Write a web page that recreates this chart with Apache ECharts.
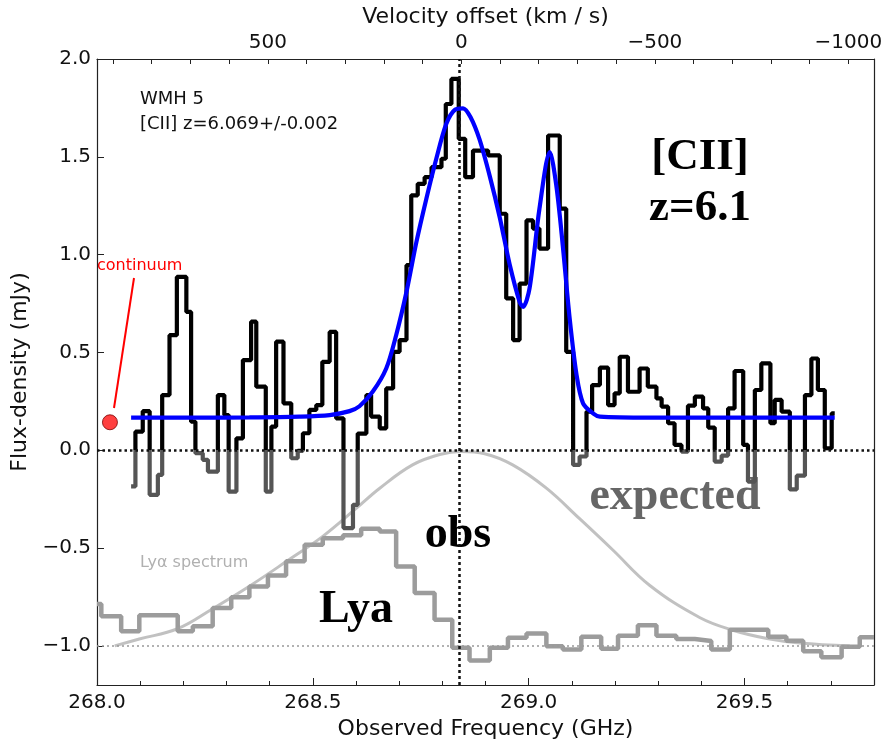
<!DOCTYPE html>
<html>
<head>
<meta charset="utf-8">
<script src="https://cdn.jsdelivr.net/npm/echarts@6/dist/echarts.min.js"></script>
<style>
html,body{margin:0;padding:0;background:#fff;}
#chart{width:888px;height:745px;}
</style>
</head>
<body>
<div id="chart"></div>
<script>
// ---- constants ----
const REST_FREQ = 268.844;     // GHz, velocity zero ([CII] at z=6.069)
const C_KMS = 299792.458;
const FREQ_MIN = 268.0, FREQ_MAX = 269.8;
const FLUX_MIN = -1.2, FLUX_MAX = 2.0;

// ---- tick labels ----
const freqTicks = [268.0, 268.5, 269.0, 269.5];
const fluxTicks = [-1.0, -0.5, 0.0, 0.5, 1.0, 1.5, 2.0];
const velLabels = [500, 0, -500, -1000];
const velTicks = [900, 800, 700, 600, 500, 400, 300, 200, 100, 0, -100, -200, -300, -400, -500, -600, -700, -800, -900, -1000];

// ---- [CII] spectrum (histogram: left channel edge, flux) ----
const ciiFreq = [268.079,268.089,268.106,268.122,268.141,268.151,268.168,268.185,268.207,268.218,
  268.228,268.245,268.257,268.280,268.295,268.305,268.323,268.338,268.357,268.369,
  268.391,268.404,268.415,268.432,268.450,268.465,268.477,268.492,268.508,268.522,
  268.539,268.554,268.571,268.593,268.604,268.624,268.635,268.655,268.670,268.686,
  268.701,268.717,268.728,268.743,268.759,268.775,268.798,268.808,268.821,268.838,
  268.853,268.871,268.906,268.933,268.948,268.964,268.979,268.995,269.010,269.025,
  269.045,269.072,269.087,269.103,269.118,269.134,269.147,269.165,269.184,269.199,
  269.211,269.230,269.257,269.276,269.296,269.308,269.323,269.338,269.354,269.369,
  269.385,269.404,269.416,269.431,269.447,269.462,269.477,269.497,269.508,269.524,
  269.539,269.560,269.570,269.586,269.605,269.621,269.640,269.655,269.670,269.686,
  269.702,269.709];
const ciiFlux = [-0.185,0.095,0.20,-0.228,-0.126,0.282,0.588,0.886,0.707,0.146,
  -0.015,-0.049,-0.109,0.282,0.18,-0.211,0.061,0.461,0.657,0.325,
  -0.211,0.121,0.555,0.24,-0.041,-0.003,0.087,0.206,0.231,0.452,
  0.605,0.163,-0.398,-0.279,0.085,0.282,0.172,0.112,0.316,0.503,
  0.563,0.946,1.303,1.362,1.396,1.447,1.49,1.77,1.898,1.592,
  1.396,1.532,1.507,1.209,0.776,0.563,0.852,1.175,1.133,1.031,
  1.609,1.235,0.503,-0.075,-0.032,0.197,0.333,0.422,0.231,0.291,
  0.478,0.299,0.418,0.325,0.265,0.223,0.138,0.027,-0.007,0.228,
  0.274,0.214,0.116,-0.058,-0.027,0.214,0.405,0.027,-0.16,0.308,
  0.444,0.138,0.257,0.197,-0.2,-0.13,0.282,0.469,0.308,0.01,
  0.189,0.189];

// ---- two-component fit (blue) ----
const fitFreq = [268.079,268.238,268.353,268.469,268.539,268.585,268.608,268.639,268.670,268.693,
  268.717,268.740,268.763,268.786,268.809,268.830,268.848,268.866,268.886,268.910,
  268.933,268.956,268.979,268.987,269.002,269.025,269.049,269.064,269.079,269.095,
  269.111,269.126,269.149,269.165,269.280,269.709];
const fitFlux = [0.167,0.167,0.168,0.172,0.18,0.2,0.225,0.3,0.418,0.588,
  0.81,1.065,1.286,1.49,1.668,1.742,1.748,1.70,1.59,1.40,
  1.19,0.95,0.759,0.733,0.827,1.235,1.524,1.354,1.047,0.673,
  0.384,0.24,0.189,0.172,0.167,0.167];

// ---- Lya spectrum (histogram, shifted) ----
const lyaFreq = [268.0,268.010,268.056,268.098,268.187,268.222,268.268,268.311,268.353,268.396,
  268.438,268.481,268.523,268.570,268.612,268.655,268.693,268.736,268.782,268.823,
  268.863,268.910,268.952,268.995,269.041,269.079,269.122,269.168,269.207,269.253,
  269.296,269.342,269.385,269.423,269.466,269.555,269.597,269.636,269.678,269.725,
  269.767,269.8];
const lyaFlux = [-0.786,-0.849,-0.925,-0.844,-0.925,-0.9,-0.806,-0.752,-0.696,-0.64,
  -0.568,-0.483,-0.45,-0.435,-0.401,-0.415,-0.594,-0.73,-0.866,-1.01,
  -1.075,-1.01,-0.959,-0.937,-1.002,-1.019,-0.953,-1.015,-0.948,-0.895,
  -0.948,-0.965,-0.975,-1.019,-0.917,-0.953,-0.974,-1.027,-1.058,-1.005,
  -0.956,-0.956];

// ---- expected Lya profile (light grey curve) ----
const expFreq = [268.041,268.098,268.187,268.268,268.353,268.439,268.523,268.601,268.655,268.731,
  268.794,268.844,268.898,268.963,269.041,269.118,269.195,269.280,269.396,269.473,
  269.552,269.628,269.744];
const expFlux = [-1.0,-0.965,-0.912,-0.81,-0.695,-0.568,-0.44,-0.296,-0.194,-0.075,
  -0.022,-0.007,-0.018,-0.075,-0.194,-0.35,-0.51,-0.69,-0.855,-0.92,
  -0.962,-0.985,-1.0];

// ---- continuum point ----
const contFreq = [268.03];
const contFlux = [0.143];

const zip = (a, b) => a.map((v, i) => [v, b[i]]);
const minus = s => String(s).replace('-', '\u2212');
const FONT = 'DejaVu Sans';

const velLeft = C_KMS * (REST_FREQ - FREQ_MIN) / REST_FREQ;
const velRight = C_KMS * (REST_FREQ - FREQ_MAX) / REST_FREQ;

const chart = echarts.init(document.getElementById('chart'), null, {renderer: 'canvas'});
const axisLineStyle = {color: '#222', width: 1.2};
const option = {
  animation: false,
  backgroundColor: '#fff',
  grid: {left: 97, right: 14, top: 59, bottom: 58, containLabel: false},
  xAxis: [{
    type: 'value', position: 'bottom', min: FREQ_MIN, max: FREQ_MAX, interval: 0.5,
    name: 'Observed Frequency (GHz)', nameLocation: 'middle', nameGap: 33,
    nameTextStyle: {fontFamily: FONT, fontSize: 22, color: '#111'},
    axisLine: {show: true, onZero: false, lineStyle: axisLineStyle},
    axisTick: {show: true, inside: true, length: 7, lineStyle: {color: '#222'}},
    minorTick: {show: true, splitNumber: 5, length: 4, lineStyle: {color: '#222'}},
    axisLabel: {fontFamily: FONT, fontSize: 20, color: '#111', margin: 8,
      customValues: freqTicks, formatter: v => v.toFixed(1)},
    splitLine: {show: false}
  }, {
    type: 'value', position: 'top', min: velRight, max: velLeft, inverse: true,
    name: 'Velocity offset (km / s)', nameLocation: 'middle', nameGap: 31,
    nameTextStyle: {fontFamily: FONT, fontSize: 22, color: '#111'},
    axisLine: {show: true, onZero: false, lineStyle: axisLineStyle},
    axisTick: {show: true, inside: true, length: 5, customValues: velTicks, lineStyle: {color: '#222'}},
    axisLabel: {fontFamily: FONT, fontSize: 20, color: '#111', margin: 6,
      customValues: velLabels, formatter: v => minus(v)},
    splitLine: {show: false}
  }],
  yAxis: [{
    type: 'value', position: 'left', min: FLUX_MIN, max: FLUX_MAX,
    name: 'Flux-density (mJy)', nameLocation: 'middle', nameGap: 58,
    nameTextStyle: {fontFamily: FONT, fontSize: 22, color: '#111'},
    axisLine: {show: true, onZero: false, lineStyle: axisLineStyle},
    axisTick: {show: true, inside: true, length: 7, customValues: fluxTicks, lineStyle: {color: '#222'}},
    axisLabel: {fontFamily: FONT, fontSize: 20, color: '#111', margin: 6,
      customValues: fluxTicks, formatter: v => minus(v.toFixed(1))},
    splitLine: {show: false}
  }, {
    type: 'value', position: 'right', min: FLUX_MIN, max: FLUX_MAX,
    axisLine: {show: true, onZero: false, lineStyle: axisLineStyle},
    axisTick: {show: false}, axisLabel: {show: false}, splitLine: {show: false}
  }],
  series: [{
    name: 'Lya', type: 'line', step: 'end', data: zip(lyaFreq, lyaFlux),
    symbol: 'none', lineStyle: {color: '#9c9c9c', width: 4.5}, z: 2
  }, {
    name: 'expected', type: 'line', smooth: 0.4, data: zip(expFreq, expFlux),
    symbol: 'none', lineStyle: {color: 'rgba(160,160,160,0.65)', width: 3}, z: 3
  }, {
    name: 'CII', type: 'line', step: 'end', data: zip(ciiFreq, ciiFlux),
    symbol: 'none', lineStyle: {color: '#000', width: 4.2}, z: 4
  }, {
    name: 'fit', type: 'line', smooth: 0.3, data: zip(fitFreq, fitFlux),
    symbol: 'none', lineStyle: {color: '#0000ff', width: 4.2}, z: 5
  }, {
    name: 'continuum', type: 'scatter', data: zip(contFreq, contFlux),
    symbolSize: 15, itemStyle: {color: '#ff1010', borderColor: '#7a0000', borderWidth: 1}, z: 6
  }, {
    name: 'refs', type: 'line', data: [], z: 7, silent: true,
    markLine: {
      silent: true, symbol: ['none', 'none'], label: {show: false},
      data: [
        {yAxis: 0, lineStyle: {color: '#111', width: 2.5, type: [2.5, 3]}},
        {yAxis: -1, lineStyle: {color: '#999', width: 1.5, type: [2, 3]}},
        {xAxis: REST_FREQ, lineStyle: {color: '#111', width: 2.5, type: [3, 3]}}
      ]
    }
  }],
  graphic: [
    {type: 'text', x: 140, y: 99, style: {text: 'WMH 5', font: '18px "DejaVu Sans"', fill: '#111', align: 'left', verticalAlign: 'middle'}},
    {type: 'text', x: 140, y: 124, style: {text: '[CII] z=6.069+/-0.002', font: '18px "DejaVu Sans"', fill: '#111', align: 'left', verticalAlign: 'middle'}},
    {type: 'text', x: 700, y: 157, style: {text: '[CII]', font: 'bold 45px "Liberation Serif"', fill: '#000', align: 'center', verticalAlign: 'middle'}},
    {type: 'text', x: 700, y: 208, style: {text: 'z=6.1', font: 'bold 45px "Liberation Serif"', fill: '#000', align: 'center', verticalAlign: 'middle'}},
    {type: 'text', x: 458, y: 535, style: {text: 'obs', font: 'bold 46px "Liberation Serif"', fill: '#000', align: 'center', verticalAlign: 'middle'}},
    {type: 'text', x: 356, y: 610, style: {text: 'Lya', font: 'bold 46px "Liberation Serif"', fill: '#000', align: 'center', verticalAlign: 'middle'}},
    {type: 'text', x: 675, y: 497, style: {text: 'expected', font: 'bold 46px "Liberation Serif"', fill: '#666', align: 'center', verticalAlign: 'middle'}},
    {type: 'text', x: 140, y: 563, style: {text: 'Ly\u03b1 spectrum', font: '16px "DejaVu Sans"', fill: '#b0b0b0', align: 'left', verticalAlign: 'middle'}},
    {type: 'text', x: 97, y: 266, style: {text: 'continuum', font: '16px "DejaVu Sans"', fill: '#ff0000', align: 'left', verticalAlign: 'middle'}},
    {type: 'line', shape: {x1: 134, y1: 278, x2: 114, y2: 408}, style: {stroke: '#ff0000', lineWidth: 2}}
  ]
};
chart.setOption(option);

// colour the [CII] histogram dark grey below zero flux (split at the y=0 pixel row)
const y0 = chart.convertToPixel({yAxisIndex: 0}, 0);
const H = chart.getHeight();
const t = y0 / H;
chart.setOption({
  series: [{}, {}, {
    lineStyle: {
      color: new echarts.graphic.LinearGradient(0, 0, 0, H, [
        {offset: 0, color: '#000'}, {offset: t, color: '#000'},
        {offset: t, color: '#555'}, {offset: 1, color: '#555'}
      ], true)
    }
  }]
});
</script>
</body>
</html>
